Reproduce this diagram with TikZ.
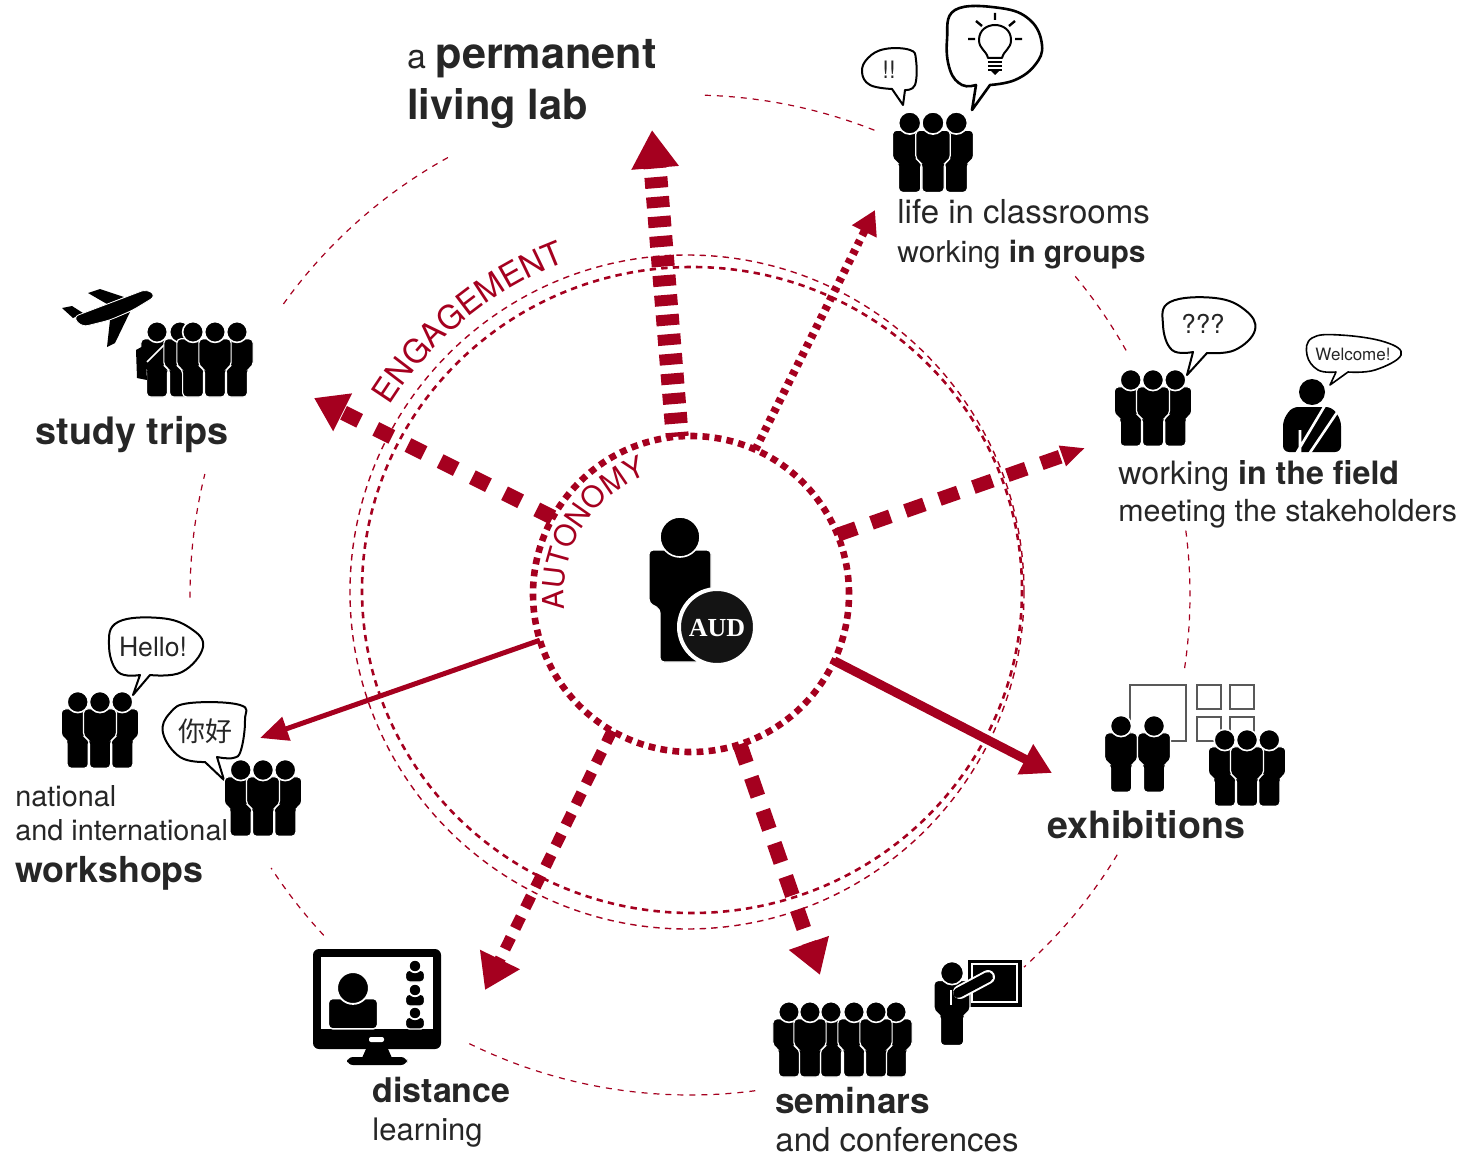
\documentclass[tikz,border=0pt]{standalone}
\usepackage{fontspec}
\setmainfont{TeX Gyre Heros}
\newfontfamily\cjk{Noto Sans CJK SC}
\newfontfamily\audfont{Liberation Serif}
\usetikzlibrary{arrows.meta}
\usetikzlibrary{decorations.text}
\definecolor{audred}{HTML}{A5001F}
\newcommand{\fsize}[1]{\fontsize{#1}{#1}\selectfont}
\newcommand{\personshape}{
  \filldraw[fill=black,draw=white,line width=.6pt,rounded corners=2pt]
    (-31,13) -- (31,13) -- (31,66) -- (20,72) -- (20,125) -- (-20,125) -- (-20,72) -- (-31,66) -- cycle;
  \filldraw[fill=black,draw=white,line width=.8pt] (0,0) circle (20);
}
\tikzset{
  person/.pic={\personshape},
  bust/.pic={
    \filldraw[fill=black,draw=white,line width=.7pt,rounded corners=2pt]
      (-30,50) -- (-30,13) -- (30,13) -- (30,50) -- cycle;
    \filldraw[fill=black,draw=white,line width=.9pt] (0,0) circle (19.5);
  },
  trio/.pic={
    \begin{scope}[shift={(-42,0)}]\personshape\end{scope}
    \begin{scope}[shift={(42,0)}]\personshape\end{scope}
    \personshape
  }
}

\begin{document}
\begin{tikzpicture}[x=.5pt,y=-.5pt]
\tikzstyle{hub}=[circle,draw=audred,line width=3.3pt,dash pattern=on 3.4pt off 2.65pt,minimum size=158pt,inner sep=0pt,outer sep=0pt]
\tikzstyle{ringfar}=[audred,line width=.6pt,dash pattern=on 3pt off 3pt]
\tikzstyle{ringthin}=[audred,line width=.7pt,dash pattern=on 3.2pt off 2.6pt]
\tikzstyle{ringdot}=[audred,line width=1.3pt,dash pattern=on 3.2pt off 2.6pt]
\tikzstyle{lbl}=[anchor=base west,inner sep=0pt,text=black!85]
\tikzstyle{bubble}=[draw=black,fill=white,line width=1pt,line join=round]
\tikzstyle{saying}=[inner sep=0pt,text=black!85]
\tikzstyle{frame}=[draw=black!65,line width=.7pt]
\useasboundingbox (0,0) rectangle (1465,1155);

% rings
\foreach \from/\to in {-88.3/-68,-39.6/-28.9,-7.4/8.6,31.3/48.1,82.5/116.4,137.1/146.9,179.7/194,215.6/241.2}
  \draw[ringfar] (690,595) ++(\from:500) arc[start angle=\from,end angle=\to,radius=500];
\draw[ringthin] (687,592) circle (337);
\draw[ringdot] (692,590) ellipse [x radius=330,y radius=323];
\node[hub] (hub) at (691,594) {};

% ring titles
\path[decorate,decoration={text along path,text={|\fsize{14.8}\color{audred}|AUTONOMY}}]
  (691,594) ++(173:127) arc[start angle=173,end angle=262,radius=127];
\path[decorate,decoration={text along path,text={|\fsize{16.3}\color{audred}|ENGAGEMENT}}]
  (691,594) ++(212:355) arc[start angle=212,end angle=262,radius=355];

% spokes
\coordinate (labTip) at (652,130);
\coordinate (groupTip) at (875,210);
\coordinate (fieldTip) at (1085,448);
\coordinate (showTip) at (1052,773);
\coordinate (semTip) at (820,975);
\coordinate (distTip) at (485,990);
\coordinate (workTip) at (260,738);
\coordinate (tripTip) at (314,398);
\draw[audred,line width=11.5pt,dash pattern=on 5.5pt off 4.35pt,dash phase=3.35pt,-{Triangle[length=19pt,width=22.5pt]}] (hub.95) -- (labTip);
\draw[audred,line width=4pt,dash pattern=on 2.6pt off 2.6pt,-{Triangle[length=12pt,width=13pt]}] (hub.66) -- (groupTip);
\draw[audred,line width=7pt,dash pattern=on 10pt off 8pt,-{Triangle[length=12pt,width=10pt]}] (hub.22.6) -- (fieldTip);
\draw[audred,line width=4.5pt,-{Triangle[length=15pt,width=16pt]}] (hub.-25.3) -- (showTip);
\draw[audred,line width=7.5pt,dash pattern=on 10pt off 7.5pt,-{Triangle[length=17pt,width=20pt]}] (hub.-72.6) -- (semTip);
\draw[audred,line width=5.5pt,dash pattern=on 6.5pt off 5pt,-{Triangle[length=17pt,width=21pt]}] (hub.-120.4) -- (distTip);
\draw[audred,line width=2.5pt,-{Triangle[length=14pt,width=12pt]}] (hub.197) -- (workTip);
\draw[audred,line width=7.5pt,dash pattern=on 9pt off 9pt,-{Triangle[length=16pt,width=20pt]}] (hub.151.4) -- (tripTip);

% student in the middle
\pic at (680,537) {person};
\filldraw[fill=black!92,draw=white,line width=2pt] (717,627) circle (38);
\node[inner sep=0pt,text=white,font=\audfont\bfseries\fsize{13}] (aud) at (717,628) {AUD};

% permanent lab
\node[lbl,font=\fsize{17}] (lab) at (407,69) {a \fsize{21.6}\textbf{permanent}};
\node[lbl,font=\fsize{20.8}] (labB) at (407,120) {\textbf{living lab}};

% classrooms
\filldraw[bubble] (903,105) -- plot[smooth,tension=.7] coordinates {(905,90) (915,85) (916,60) (910,50) (885,49) (868,58) (862,72) (870,85) (892,89)} -- cycle;
\node[saying,font=\fsize{12}] (excl) at (889,70) {!!};
\filldraw[bubble,line width=1.3pt] (972,110) -- plot[smooth,tension=.7] coordinates {(990,85) (1015,80) (1035,65) (1042,45) (1030,20) (1000,8) (955,10) (947,40) (950,70) (962,85) (976,85)} -- cycle;
\draw[line width=1pt,line join=round] (988,58) .. controls (986,50) and (979,49) .. (979,40) .. controls (979,30) and (987,25) .. (995,25) .. controls (1003,25) and (1011,30) .. (1011,40) .. controls (1011,49) and (1004,50) .. (1002,58) -- cycle;
\draw[line width=1pt] (988,62) -- (1002,62) (988,66) -- (1002,66) (988,70) -- (1002,70);
\fill (991,71) -- (999,71) -- (995,75) -- cycle;
\draw[line width=1.2pt] (995,13) -- (995,20) (968,39) -- (975,39) (1015,39) -- (1022,39) (976,21) -- (982,26) (1015,21) -- (1009,26);
\pic[scale=.555] at (933,123) {trio};
\node[lbl,font=\fsize{16.5}] (classA) at (897,224) {life in classrooms};
\node[lbl,font=\fsize{15}] (classB) at (897,262) {working \textbf{in groups}};

% field
\filldraw[bubble] (1187,375) -- plot[smooth,tension=.7] coordinates {(1207,353) (1235,350) (1255,330) (1245,310) (1215,298) (1170,302) (1163,325) (1172,350) (1193,352)} -- cycle;
\node[saying,font=\fsize{13}] (quest) at (1203,324) {???};
\filldraw[bubble,line width=.8pt] (1330,385) -- plot[smooth,tension=.7] coordinates {(1348,372) (1375,370) (1401,355) (1385,342) (1340,335) (1312,338) (1307,355) (1318,370) (1336,372)} -- cycle;
\node[saying,font=\fsize{8.5}] (welcome) at (1353,354) {Welcome!};
\pic[scale=.53] at (1153,380) {trio};
\fill (1312,392) circle (13);
\fill[rounded corners=3pt] (1283,452) -- (1283,420) -- (1292,407) -- (1332,407) -- (1341,420) -- (1341,452) -- cycle;
\draw[white,line width=1.3pt] (1327,402) -- (1296,454) (1340,408) -- (1309,454) (1300,430) -- (1300,454);
\node[lbl,font=\fsize{16.1}] (fieldA) at (1118,484) {working \textbf{in the field}};
\node[lbl,font=\fsize{15.2}] (fieldB) at (1118,521) {meeting the stakeholders};

% exhibitions
\draw[frame] (1130,685) rectangle (1186,741);
\draw[frame] (1197,685) rectangle (1221,709);
\draw[frame] (1230,685) rectangle (1254,709);
\draw[frame] (1197,717) rectangle (1221,741);
\draw[frame] (1230,717) rectangle (1254,741);
\pic[scale=.53] at (1121,726) {person};
\pic[scale=.53] at (1154,726) {person};
\pic[scale=.53] at (1247,740) {trio};
\node[lbl,font=\fsize{18.8}] (shows) at (1047,838) {\textbf{exhibitions}};

% seminars
\filldraw[black] (968,960) rectangle (1021,1006);
\draw[white,line width=1pt] (972,964) rectangle (1017,1002);
\pic[scale=.58] at (952,973) {person};
\draw[white,line width=7pt,line cap=round] (960,992) -- (988,977);
\draw[black,line width=5pt,line cap=round] (958,993) -- (988,977);
\draw[white,line width=1.2pt] (951,990) -- (951,1005);
\foreach \px in {789,831,854,896,810,876}
  \pic[scale=.52] at (\px,1012) {person};
\node[lbl,font=\fsize{17.6}] (semA) at (775,1113) {\textbf{seminars}};
\node[lbl,font=\fsize{16.5}] (semB) at (775,1151) {and conferences};

% distance learning
\fill[rounded corners=3pt] (313,949) rectangle (441,1049);
\fill[white] (321,957) rectangle (433,1029);
\fill[white,rounded corners=1pt] (369,1037) rectangle (384,1042);
\fill (366,1049) -- (388,1049) -- (392,1058) -- (362,1058) -- cycle;
\fill[rounded corners=3pt] (347,1057) rectangle (407,1065);
\pic[scale=.816] at (353,988) {bust};
\pic[scale=.32] at (415,966) {bust};
\pic[scale=.32] at (415,990) {bust};
\pic[scale=.32] at (415,1013) {bust};
\node[lbl,font=\fsize{17}] (distA) at (372,1102) {\textbf{distance}};
\node[lbl,font=\fsize{15.5}] (distB) at (372,1140) {learning};

% workshops
\filldraw[bubble] (133,695) -- plot[smooth,tension=.7] coordinates {(150,675) (182,672) (203,647) (190,628) (160,618) (118,622) (109,645) (118,672) (140,675)} -- cycle;
\node[saying,font=\fsize{13.3}] (hello) at (153,647) {Hello!};
\pic[scale=.53] at (100,702) {trio};
\filldraw[bubble] (224,780) -- plot[smooth,tension=.7] coordinates {(205,762) (180,757) (163,733) (170,713) (190,703) (240,705) (245,720) (241,750) (233,758) (217,757)} -- cycle;
\node[saying,font=\cjk\fsize{13.5}] (nihao) at (205,731) {你好};
\pic[scale=.53] at (263,770) {trio};
\node[lbl,font=\fsize{14.4}] (workA) at (15,806) {national};
\node[lbl,font=\fsize{14.4}] (workB) at (15,840) {and international};
\node[lbl,font=\fsize{17.9}] (workC) at (15,882) {\textbf{workshops}};

% study trips
\pic[scale=.52] at (157,332) {person};
\fill (136,350) -- (145,345) -- (147,380) -- (137,378) -- cycle;
\draw[white,line width=.8pt] (169,340) -- (147,362);
\foreach \px in {180,237,193,215}
  \pic[scale=.52] at (\px,332) {person};
\fill (88,293) -- (100,289) -- (124,297) -- (107,304) -- cycle;
\fill (62,308) -- (72,306) -- (83,313) -- (73,318) -- cycle;
\fill (130,312) -- (115,343) -- (107,347) -- (110,320) -- cycle;
\filldraw[fill=black,draw=white,line width=.4pt,rounded corners=3pt] (147,289) -- (73,317) -- (82,327) -- (110,320) -- (133,310) -- (156,296) -- cycle;
\node[lbl,font=\fsize{18.9}] (trips) at (35,444) {\textbf{study trips}};
\end{tikzpicture}
\end{document}
